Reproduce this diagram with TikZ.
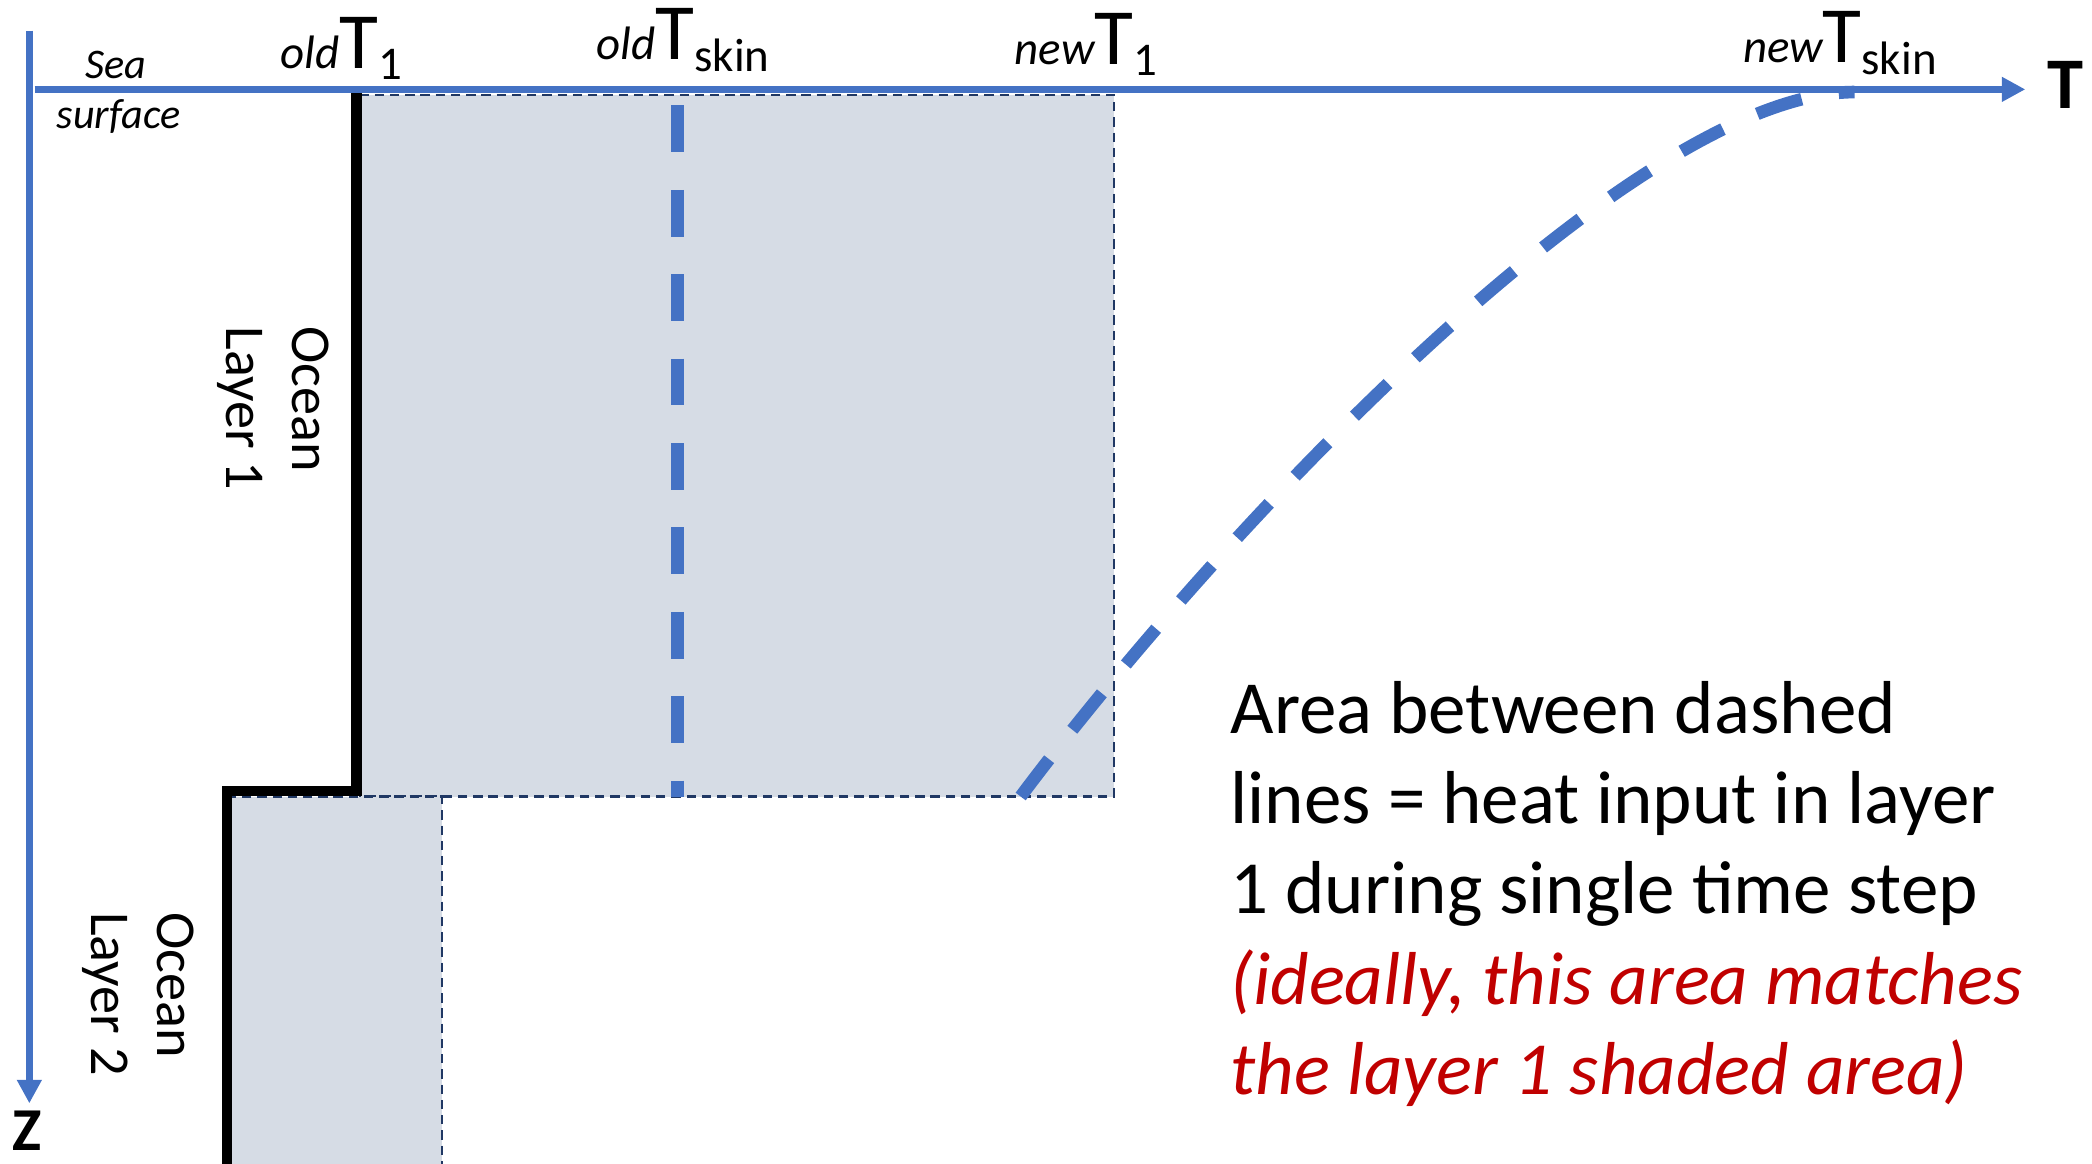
\documentclass[tikz,border=0pt]{standalone}
\usepackage{fontspec}
\setmainfont{Carlito}
\usetikzlibrary{arrows.meta}
\definecolor{axisblue}{HTML}{4472C4}
\definecolor{shade}{HTML}{D6DCE5}
\definecolor{navy}{HTML}{203864}
\definecolor{notered}{HTML}{C00000}
\newcommand{\tlabel}[2]{{\fontsize{20}{24}\selectfont\itshape #1}{\fontsize{34}{40}\selectfont T}\raisebox{-5pt}{\fontsize{20}{24}\selectfont #2}}

\begin{document}
\begin{tikzpicture}[
  axisline/.style={axisblue, line width=3pt, -{Triangle[width=10pt,length=10pt]}},
  layerbox/.style={fill=shade, draw=navy, line width=0.9pt, dash pattern=on 4pt off 2.5pt},
  skinline/.style={axisblue, line width=5.4pt, dash pattern=on 20pt off 16pt},
  stepline/.style={black, line width=4.5pt}
]
  \useasboundingbox (0,0) rectangle (31.36,17.44);

  % Shaded layers
  \draw[layerbox] (5.4,5.5) rectangle (16.7,16.02);
  \draw[layerbox] (3.46,-0.5) rectangle (6.62,5.5);

  % Skin temperature profiles
  \draw[skinline] (10.16,15.86) -- (10.16,5.5);
  \draw[skinline] (15.3,5.5) .. controls (18.3,9.5) and (24.5,16.06) .. (27.8,16.06);

  % Layer temperatures
  \draw[stepline] (5.34,16.1) -- (5.34,5.58) -- (3.4,5.58) -- (3.4,-0.5);

  % Axes
  \draw[axisline] (0.52,16.1) -- (30.36,16.1);
  \draw[axisline] (0.44,16.98) -- (0.44,0.9);
  \node[font=\fontsize{31}{36}\selectfont\bfseries] (taxis) at (30.96,16.17) {T};
  \node[anchor=base, inner sep=0pt, font=\fontsize{26}{30}\selectfont\bfseries] (zaxis) at (0.41,0.2) {Z};

  % Temperature labels
  \node[anchor=base] (oldone) at (5.12,16.42) {\tlabel{old}{1}};
  \node[anchor=base] (oldskin) at (10.24,16.55) {\tlabel{old}{skin}};
  \node[anchor=base] (newone) at (16.28,16.48) {\tlabel{new}{1}};
  \node[anchor=base] (newskin) at (27.58,16.5) {\tlabel{new}{skin}};

  \node[anchor=base, font=\fontsize{18}{21}\selectfont\itshape] (sea) at (1.74,16.26) {Sea};
  \node[anchor=base, font=\fontsize{18}{21}\selectfont\itshape] (surface) at (1.78,15.52) {surface};

  \node[rotate=-90, align=left, font=\fontsize{24}{28}\selectfont] (layerone) at (4.1,11.32) {Ocean\\Layer 1};
  \node[rotate=-90, align=left, font=\fontsize{24}{28}\selectfont] (layertwo) at (2.07,2.54) {Ocean\\Layer 2};

  % base anchor sits on the last line
  \node[anchor=base west, align=left, inner sep=0pt, font=\fontsize{32}{38.4}\selectfont] (note) at (18.44,1.04)
    {Area between dashed\\lines = heat input in layer\\1 during single time step\\
     {\color{notered}\itshape (ideally, this area matches}\\{\color{notered}\itshape the layer 1 shaded area)}};
\end{tikzpicture}
\end{document}
